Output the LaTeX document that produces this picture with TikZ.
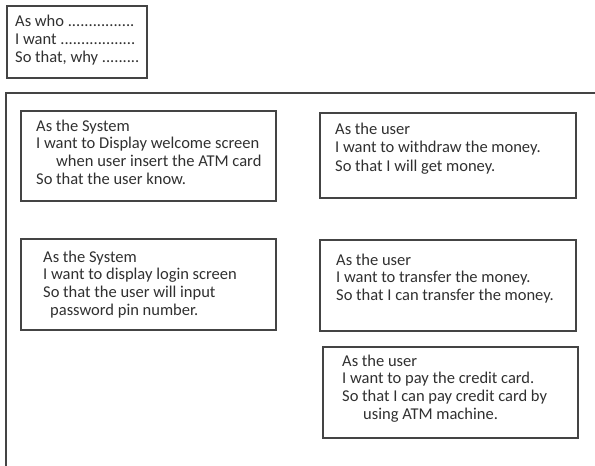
\documentclass[tikz,border=0pt]{standalone}
\usepackage{fontspec}
\setmainfont{Carlito}
\definecolor{txtgray}{HTML}{303030}
\definecolor{linegray}{HTML}{444444}
\newcommand\storylines[1]{\begin{tabular}[t]{@{}l@{}}#1\end{tabular}}
\tikzset{
  storybox/.style={draw=linegray, line width=1.3pt},
  storytext/.style={anchor=base west, inner sep=0pt, text=txtgray,
    font=\fontsize{16.5}{17.8}\selectfont},
}
\begin{document}
\begin{tikzpicture}[x=1pt,y=-1pt]
\useasboundingbox (0,0) rectangle (595,466);
% legend box
\draw[storybox] (7,6) rectangle (147,78);
\node[storytext, font=\fontsize{16.5}{18.3}\selectfont] (legend) at (15,26) {\storylines{As who ................\\ I want ..................\\ So that, why .........}};
% outer frame (top and left lines only)
\coordinate (frameTR) at (596,93);
\coordinate (frameTL) at (6,93);
\coordinate (frameBL) at (6,467);
\draw[linegray, line width=1.3pt] (frameTR) -- (frameTL) -- (frameBL);
% box 1
\draw[storybox] (21,111) rectangle (276,201);
\node[storytext] (s1) at (36,131) {\storylines{As the System\\ I want to Display welcome screen\\ \hspace{20pt}when user insert the ATM card\\ So that the user know.}};
% box 2
\draw[storybox] (320,113) rectangle (576,198);
\node[storytext, font=\fontsize{16.5}{18.5}\selectfont] (u1) at (335,134) {\storylines{As the user\\ I want to withdraw the money.\\ So that I will get money.}};
% box 3
\draw[storybox] (21,239) rectangle (276,330);
\node[storytext] (s2) at (43,262) {\storylines{As the System\\ I want to display login screen\\ So that the user will input\\ \hspace{7pt}password pin number.}};
% box 4
\draw[storybox] (320,240) rectangle (576,331);
\node[storytext] (u2) at (336,265) {\storylines{As the user\\ I want to transfer the money.\\ So that I can transfer the money.}};
% box 5
\draw[storybox] (323,347) rectangle (578,438);
\node[storytext] (u3) at (342,366) {\storylines{As the user\\ I want to pay the credit card.\\ So that I can pay credit card by\\ \hspace{21pt}using ATM machine.}};
\end{tikzpicture}
\end{document}
